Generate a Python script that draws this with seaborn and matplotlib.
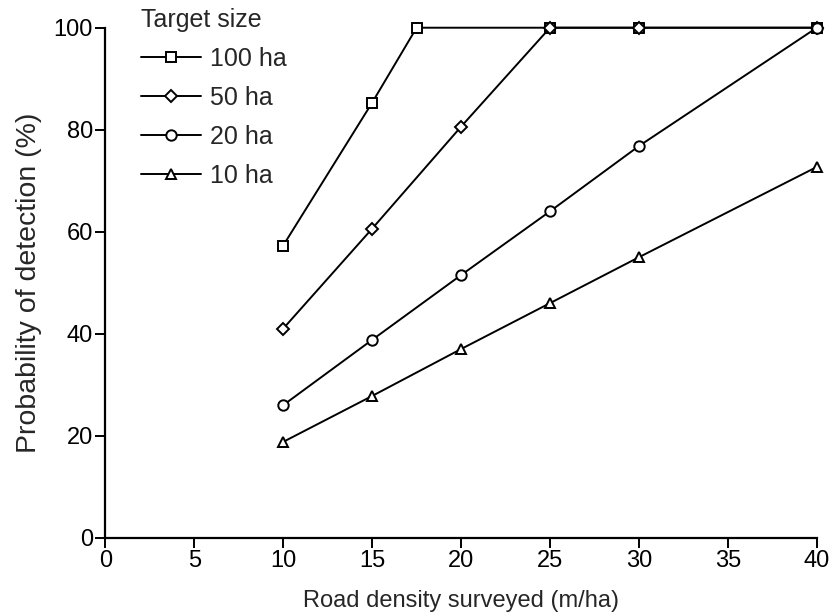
import matplotlib
matplotlib.use("Agg")
import matplotlib.pyplot as plt
import pandas as pd
import seaborn as sns

# values
x_100 = [10, 15, 17.5, 25, 30, 40]
y_100 = [57.3, 85.3, 100, 100, 100, 100]
x_50 = [10, 15, 20, 25, 30, 40]
y_50 = [41.0, 60.6, 80.6, 100, 100, 100]
x_20 = [10, 15, 20, 25, 30, 40]
y_20 = [26.0, 38.8, 51.5, 64.0, 76.8, 100]
x_10 = [10, 15, 20, 25, 30, 40]
y_10 = [18.8, 27.8, 37.0, 46.0, 55.0, 72.7]
sizes = ["100 ha", "50 ha", "20 ha", "10 ha"]

frames = []
for lab, xs, ys in zip(sizes, [x_100, x_50, x_20, x_10], [y_100, y_50, y_20, y_10]):
    frames.append(pd.DataFrame({"density": xs, "prob": ys, "size": lab}))
df = pd.concat(frames, ignore_index=True)

sns.set_style("ticks")
plt.rcParams["font.family"] = ["Liberation Sans", "DejaVu Sans"]

fig = plt.figure(figsize=(8.36, 6.16), dpi=100)
ax = fig.add_axes([0.126, 0.127, 0.851, 0.828])

markers = {"100 ha": "s", "50 ha": "D", "20 ha": "o", "10 ha": "^"}
sns.lineplot(
    data=df, x="density", y="prob", style="size", style_order=sizes,
    markers=markers, dashes=False, color="black", lw=1.4,
    markersize=7.5, mfc="white", mec="black", mew=1.4, ax=ax,
    clip_on=False,
)
# diamonds are a bit smaller in the original
for line in ax.lines:
    if line.get_marker() == "D":
        line.set_markersize(6)

ax.set_xlim(0, 40)
ax.set_ylim(0, 100)
ax.set_xticks(range(0, 41, 5))
ax.set_yticks(range(0, 101, 20))
ax.tick_params(labelsize=17, width=1.4, length=7, colors="black", pad=2)
ax.set_xlabel("Road density surveyed (m/ha)", fontsize=17)
ax.xaxis.set_label_coords(0.5, -0.102)
ax.set_ylabel("Probability of detection (%)", fontsize=20.5, labelpad=8)
sns.despine(ax=ax)
for s in ["left", "bottom"]:
    ax.spines[s].set_linewidth(1.6)
    ax.spines[s].set_color("black")

leg = ax.legend(title="Target size", loc="upper left", frameon=False,
                fontsize=18, title_fontsize=18, handlelength=2.4,
                handletextpad=0.35, labelspacing=0.6, borderpad=0,
                borderaxespad=0, alignment="left",
                bbox_to_anchor=(141 / 836, 1 - 8 / 616),
                bbox_transform=fig.transFigure)
for h in leg.legend_handles:
    h.set_markerfacecolor("white")
    h.set_markeredgecolor("black")
    h.set_color("black")

fig.savefig("out.png", dpi=100)
